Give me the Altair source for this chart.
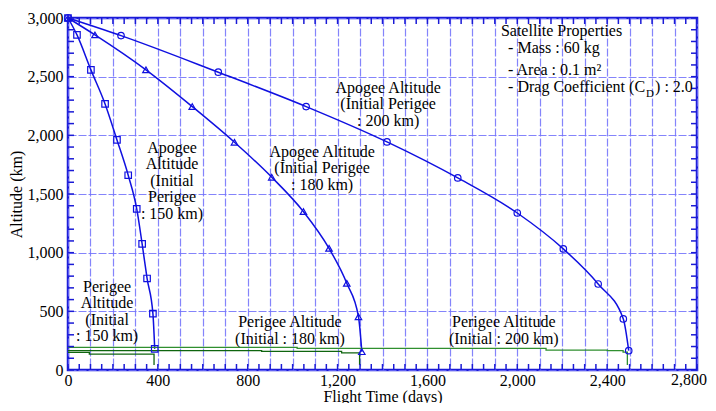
import altair as alt
import pandas as pd

# ---- Apogee altitude curves (flight days, km) ----
days_150 = [0, 40, 102, 165, 218, 268, 306, 330, 352, 378, 386]
apogee_150 = [3000, 2856, 2558, 2268, 1961, 1660, 1373, 1075, 780, 480, 180]
days_180 = [0, 120, 347, 553, 741, 907, 1048, 1162, 1241, 1293, 1308]
apogee_180 = [3000, 2856, 2558, 2245, 1941, 1643, 1350, 1037, 739, 454, 156]
days_200 = [0, 236, 669, 1060, 1420, 1735, 2000, 2205, 2360, 2472, 2496]
apogee_200 = [3000, 2850, 2538, 2245, 1944, 1637, 1338, 1032, 733, 435, 165]

# ---- Perigee altitude step lines ----
per_days_150 = [0, 95, 383]
per_km_150 = [150, 135, 43]
per_days_180 = [0, 862, 1218, 1298]
per_km_180 = [165, 158, 146, 43]
per_days_200 = [0, 1020, 2128, 2400, 2471, 2490]
per_km_200 = [193, 184, 170, 165, 152, 43]

series_names = ["150", "180", "200"]
marker_shapes = ["square", "triangle-up", "circle"]
perigee_colors = ["#0f650f", "#0f650f", "#2f8f2f"]

# ---- axes ----
x_grid = list(range(0, 2801, 100))
y_grid = list(range(0, 3001, 500))
x_minor = list(range(0, 2801, 50))
y_minor = list(range(0, 3001, 100))
x_last_label = ["2,800"]
x_last_value = [2800]

# ---- annotations ----
ann_text = [
    "Apogee\nAltitude\n(Initial\nPerigee\n: 150 km)",
    "Apogee Altitude\n(Initial Perigee\n: 180 km)",
    "Apogee Altitude\n(Initial Perigee\n: 200 km)",
    "Perigee\nAltitude\n(Initial\n: 150 km)",
    "Perigee Altitude\n(Initial : 180 km)",
    "Perigee Altitude\n(Initial : 200 km)",
]
ann_x = [463, 1131, 1425, 174, 988, 1940]
ann_y = [1961, 1927, 2472, 776, 477, 477]

leg_text = ["Satellite Properties", "- Mass : 60 kg", "- Area : 0.1 m\u00b2", "- Drag Coefficient (C"]
leg_x = [1927, 1959, 1959, 1959]
leg_y = [2961, 2813, 2626, 2481]
sub_text = ["D"]
sub_x = [1959]
sub_y = [2404]
tail_text = [") : 2.0"]
tail_x = [1959]
tail_y = [2481]

BLUE = "#1010e0"
FRAME = "#1a1ad6"
FONT = "Liberation Serif"
W, H = 629, 352

apo = pd.DataFrame({
    "day": days_150 + days_180 + days_200,
    "km": apogee_150 + apogee_180 + apogee_200,
    "series": ["150"] * len(days_150) + ["180"] * len(days_180) + ["200"] * len(days_200),
})
per = pd.DataFrame({
    "day": per_days_150 + per_days_180 + per_days_200,
    "km": per_km_150 + per_km_180 + per_km_200,
    "series": ["150"] * len(per_days_150) + ["180"] * len(per_days_180) + ["200"] * len(per_days_200),
})
ann = pd.DataFrame({"day": ann_x, "km": ann_y, "text": ann_text})
leg = pd.DataFrame({"day": leg_x, "km": leg_y, "text": leg_text})
sub = pd.DataFrame({"day": sub_x, "km": sub_y, "text": sub_text})
tail = pd.DataFrame({"day": tail_x, "km": tail_y, "text": tail_text})
xt = pd.DataFrame({"day": x_minor})
yt = pd.DataFrame({"km": y_minor})
lastlab = pd.DataFrame({"day": x_last_value, "text": x_last_label})

xs = alt.Scale(domain=[0, 2800], nice=False, zero=False)
ys = alt.Scale(domain=[0, 3000], nice=False, zero=False)

x_axis = alt.Axis(
    values=x_grid,
    labelExpr="(datum.value % 400 === 0 && datum.value < 2800) ? format(datum.value, ',') : ''",
    title="Flight Time (days)",
    ticks=False, domain=False, grid=True,
    labelFlush=False, labelOverlap=False, labelPadding=2,
    titleBaseline="alphabetic", titleY=31,
)
y_axis = alt.Axis(
    values=y_grid, labelExpr="format(datum.value, ',')", title="Altitude (km)",
    ticks=False, domain=False, grid=True,
    labelPadding=5, titlePadding=3, labelOverlap=False,
)

def X():
    return alt.X("day:Q", scale=xs, axis=x_axis)

def Y():
    return alt.Y("km:Q", scale=ys, axis=y_axis)

base = alt.Chart(apo).mark_line(
    interpolate="monotone", color=BLUE, strokeWidth=1.5
).encode(x=X(), y=Y(), detail="series:N")

points = alt.Chart(apo).mark_point(
    filled=False, size=42, strokeWidth=1.2, color=BLUE, opacity=1
).encode(
    x=X(), y=Y(),
    shape=alt.Shape("series:N", scale=alt.Scale(domain=series_names, range=marker_shapes), legend=None),
)

perigee = alt.Chart(per).mark_line(interpolate="step-after", strokeWidth=1.3).encode(
    x=X(), y=Y(),
    color=alt.Color("series:N", scale=alt.Scale(domain=series_names, range=perigee_colors), legend=None),
    detail="series:N",
)

tick_style = dict(color=FRAME, strokeWidth=1.5)
bottom_ticks = alt.Chart(xt).mark_rule(**tick_style).encode(
    x=X(), y=alt.value(H), y2=alt.value(H - 6))
top_ticks = alt.Chart(xt).mark_rule(**tick_style).encode(
    x=X(), y=alt.value(0), y2=alt.value(6))
left_ticks = alt.Chart(yt).mark_rule(**tick_style).encode(
    y=Y(), x=alt.value(0), x2=alt.value(6))
right_ticks = alt.Chart(yt).mark_rule(**tick_style).encode(
    y=Y(), x=alt.value(W), x2=alt.value(W - 6))

last_label = alt.Chart(lastlab).mark_text(
    font=FONT, fontSize=16, align="right", baseline="top", color="black", dx=10
).encode(x=X(), y=alt.value(H + 2), text="text:N")

ann_layer = alt.Chart(ann).mark_text(
    font=FONT, fontSize=16, lineBreak="\n", lineHeight=16.5,
    align="center", baseline="top", color="black"
).encode(x=X(), y=Y(), text="text:N")

leg_layer = alt.Chart(leg).mark_text(
    font=FONT, fontSize=16, align="left", baseline="top", color="black"
).encode(x=X(), y=Y(), text="text:N")

sub_layer = alt.Chart(sub).mark_text(
    font=FONT, fontSize=11, align="left", baseline="top", color="black", dx=138
).encode(x=X(), y=Y(), text="text:N")

tail_layer = alt.Chart(tail).mark_text(
    font=FONT, fontSize=16, align="left", baseline="top", color="black", dx=147
).encode(x=X(), y=Y(), text="text:N")

chart = alt.layer(
    base, perigee, points,
    bottom_ticks, top_ticks, left_ticks, right_ticks, last_label,
    ann_layer, leg_layer, sub_layer, tail_layer,
).properties(
    width=W, height=H,
    autosize=alt.AutoSizeParams(type="none"),
    padding={"left": 60, "top": 10, "right": 11, "bottom": 33},
    background="white",
).configure_view(
    stroke=FRAME, strokeWidth=2.5,
).configure_axis(
    labelFont=FONT, labelFontSize=16, labelColor="black",
    titleFont=FONT, titleFontSize=16, titleColor="black", titleFontWeight="normal",
    gridColor="#6f6ffa", gridOpacity=0.85, gridWidth=1.2, gridDash=[8, 2],
)

chart.save("out.html", embed_options={"renderer": "svg", "actions": False})
